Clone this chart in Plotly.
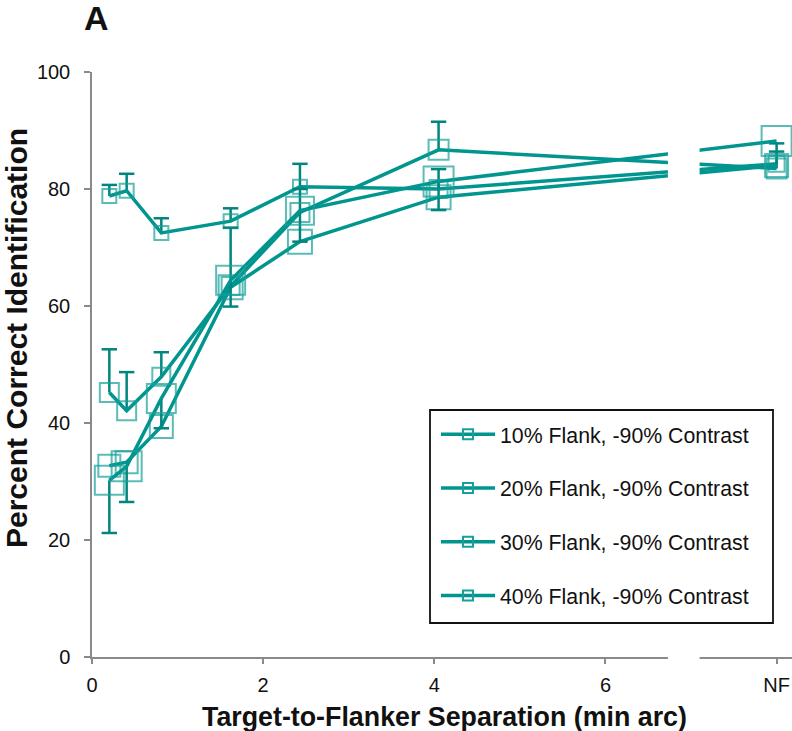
import plotly.graph_objects as go

# ---------------- data ----------------
sep_x = [0.2025, 0.405, 0.81, 1.62, 2.43, 4.05, 8.0]   # 8.0 = NF (no flanker)
x_tick_vals = [0, 2, 4, 6, 8]
x_tick_text = ["0", "2", "4", "6", "NF"]
y_tick_vals = [0, 20, 40, 60, 80, 100]

series_names = [
    "10% Flank, -90% Contrast",
    "20% Flank, -90% Contrast",
    "30% Flank, -90% Contrast",
    "40% Flank, -90% Contrast",
]

flank10 = [78.8, 79.7, 72.5, 74.5, 80.4, 80.0, 84.3]
flank20 = [45.2, 42.1, 47.9, 63.4, 76.0, 86.7, 83.5]
flank30 = [32.7, 33.3, 39.4, 63.2, 71.0, 78.6, 84.0]
flank40 = [30.2, 32.6, 44.2, 64.4, 76.3, 81.3, 88.2]

err_plus10 = [1.9, 2.9, 2.5, 2.2, 3.9, 3.4, 2.1]
err_minus10 = [0, 0, 0, 0, 0, 0, 0]
err_plus20 = [7.4, 6.6, 4.2, 10.0, 4.0, 4.8, 4.3]
err_minus20 = [0, 0, 0, 0, 0, 0, 0]
err_plus30 = [0, 0, 0, 0, 0, 0, 0]
err_minus30 = [0, 0, 0, 0, 0, 0, 0]
err_plus40 = [0, 0, 0, 0, 0, 0, 0]
err_minus40 = [9.0, 6.1, 5.1, 4.5, 5.3, 4.9, 0]

# ---------------- style ----------------
size10 = [14, 14, 14, 14, 14, 18, 16]
size20 = [19, 19, 18, 18, 19, 20, 20]
size30 = [22, 22, 23, 24, 24, 24, 23]
size40 = [29, 30, 29, 29, 28, 30, 30]

LINE_COL = "#00968F"
MARK_COL = "#16A099"
ERR_COL = "#00857F"
FONT = "Liberation Sans, Arial, sans-serif"
break_lo, break_hi = 6.73, 7.10
PLOT_L, PLOT_W, PLOT_B, PLOT_H = 92, 700, 657, 585


def px_x(px):
    return (px - PLOT_L) / PLOT_W


def px_y(py):
    return (PLOT_B - py) / PLOT_H


series = [
    (flank10, err_plus10, err_minus10, size10),
    (flank20, err_plus20, err_minus20, size20),
    (flank30, err_plus30, err_minus30, size30),
    (flank40, err_plus40, err_minus40, size40),
]

fig = go.Figure()

for vals, ep, em, sz in series:
    fig.add_trace(go.Scatter(
        x=sep_x, y=vals, mode="lines+markers", showlegend=False,
        line=dict(color=LINE_COL, width=3.5),
        marker=dict(symbol="square-open", size=sz, color=MARK_COL,
                    line=dict(color=MARK_COL, width=2)),
        error_y=dict(type="data", symmetric=False, array=ep, arrayminus=em,
                     width=0, thickness=2.5, color=ERR_COL),
        cliponaxis=True,
    ))
    cx, cy = [], []
    for xv, v, p, m in zip(sep_x, vals, ep, em):
        if p > 0:
            cx.append(xv); cy.append(v + p)
        if m > 0:
            cx.append(xv); cy.append(v - m)
    fig.add_trace(go.Scatter(
        x=cx, y=cy, mode="markers", showlegend=False, hoverinfo="skip",
        marker=dict(symbol="line-ew", size=11, color=ERR_COL,
                    line=dict(color=ERR_COL, width=2.5)),
    ))

# legend entries
for i, name in enumerate(series_names):
    fig.add_trace(go.Scatter(
        x=[None], y=[None], mode="lines+markers", name=name,
        legendgroup=f"g{i}",
        line=dict(color=LINE_COL, width=3.5),
        marker=dict(symbol="square-open", size=10, color=MARK_COL,
                    line=dict(color=MARK_COL, width=2)),
    ))

# axis break
fig.add_shape(type="rect", xref="x", yref="paper", x0=break_lo, x1=break_hi,
              y0=-0.02, y1=1.0, fillcolor="white", line=dict(width=0),
              layer="above")
# legend frame
fig.add_shape(type="rect", xref="paper", yref="paper",
              x0=px_x(430), x1=px_x(773), y0=px_y(623), y1=px_y(410),
              fillcolor="white", line=dict(color="#111111", width=1.8),
              layer="above")

fig.update_layout(
    width=792, height=731,
    margin=dict(l=92, r=0, t=72, b=74),
    paper_bgcolor="white", plot_bgcolor="white",
    font=dict(family=FONT, size=20, color="#111111"),
    xaxis=dict(range=[0, 8.18], tickvals=x_tick_vals, ticktext=x_tick_text,
               showline=True, linecolor="#8a8a8a", linewidth=1.5,
               ticks="outside", ticklen=5, tickcolor="#8a8a8a", tickwidth=1.5,
               showgrid=False, zeroline=False, ticklabelstandoff=4,
               tickfont=dict(size=20, family=FONT, color="#111111")),
    yaxis=dict(range=[0, 100], tickvals=y_tick_vals,
               showline=True, linecolor="#8a8a8a", linewidth=1.5,
               ticks="outside", ticklen=6, tickcolor="#8a8a8a", tickwidth=1.5,
               showgrid=False, zeroline=False, ticklabelstandoff=10,
               tickfont=dict(size=20, family=FONT, color="#111111")),
    legend=dict(x=px_x(436), y=px_y(414), xanchor="left", yanchor="top",
                bgcolor="rgba(0,0,0,0)", borderwidth=0,
                font=dict(size=21.3, family=FONT, color="#111111"),
                itemwidth=54, tracegroupgap=23, traceorder="grouped"),
    annotations=[
        dict(text="<b>A</b>", xref="paper", yref="paper",
             x=px_x(82), y=px_y(18), xanchor="left", yanchor="middle",
             showarrow=False, font=dict(size=34, family=FONT, color="#111111")),
        dict(text="<b>Percent Correct Identification</b>", xref="paper", yref="paper",
             x=px_x(16), y=px_y(338), xanchor="center", yanchor="middle",
             textangle=-90, showarrow=False,
             font=dict(size=30, family=FONT, color="#111111")),
        dict(text="<b>Target-to-Flanker Separation (min arc)</b>", xref="paper", yref="paper",
             x=px_x(444), y=px_y(717), xanchor="center", yanchor="middle",
             showarrow=False, font=dict(size=26.8, family=FONT, color="#111111")),
    ],
)

fig.write_html("out.html")
